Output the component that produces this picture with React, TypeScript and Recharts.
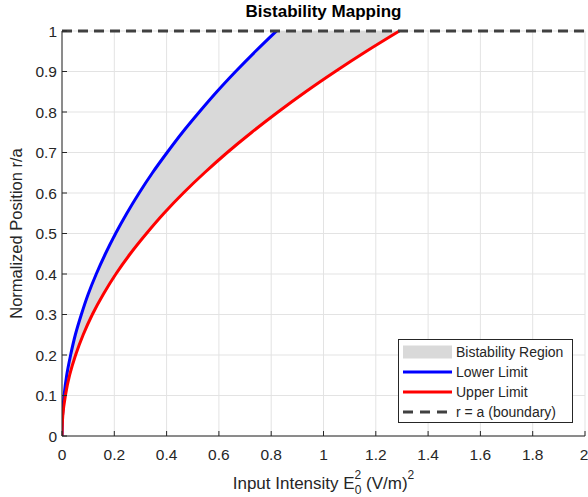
import { ComposedChart, Area, Line, XAxis, YAxis, CartesianGrid, ReferenceLine, Legend } from 'recharts';

// normalized position r/a (sampled along the curves)
const position = [0, 0.05, 0.1, 0.15, 0.2, 0.25, 0.3, 0.35, 0.4, 0.45, 0.5, 0.55, 0.6, 0.65, 0.7, 0.75, 0.8, 0.85, 0.9, 0.95, 1];
// input intensity where bistability starts (blue) and ends (red)
const lowerLimit = [0, 0.002, 0.008, 0.018, 0.033, 0.051, 0.074, 0.1, 0.131, 0.166, 0.205, 0.248, 0.295, 0.346, 0.402, 0.461, 0.525, 0.592, 0.664, 0.74, 0.82];
const upperLimit = [0, 0.003, 0.013, 0.029, 0.052, 0.081, 0.116, 0.158, 0.206, 0.261, 0.323, 0.39, 0.464, 0.545, 0.632, 0.726, 0.826, 0.932, 1.045, 1.164, 1.29];

const xTicks = [0, 0.2, 0.4, 0.6, 0.8, 1, 1.2, 1.4, 1.6, 1.8, 2];
const yTicks = [0, 0.1, 0.2, 0.3, 0.4, 0.5, 0.6, 0.7, 0.8, 0.9, 1];

const legendItems = ['Bistability Region', 'Lower Limit', 'Upper Limit', 'r = a (boundary)'];

const data = position.map((r, i) => ({
  r,
  lower: lowerLimit[i],
  upper: upperLimit[i],
  band: [lowerLimit[i], upperLimit[i]],
}));

const FONT = '"Liberation Sans", Arial, Helvetica, sans-serif';
const AXIS = '#262626';

function XLabel({ viewBox }: any) {
  const cx = viewBox.x + viewBox.width / 2;
  return (
    <text x={cx} y={489} textAnchor="middle" fill={AXIS} fontSize={17} fontFamily={FONT}>
      Input Intensity E
      <tspan fontSize={12} dy={5}>0</tspan>
      <tspan fontSize={12} dx={-6.7} dy={-15}>2</tspan>
      <tspan fontSize={17} dy={10}> (V/m)</tspan>
      <tspan fontSize={12} dy={-10}>2</tspan>
    </text>
  );
}

function YLabel({ viewBox }: any) {
  const cy = viewBox.y + viewBox.height / 2;
  return (
    <text x={22} y={cy} transform={`rotate(-90, 22, ${cy})`} textAnchor="middle" fill={AXIS} fontSize={16.5} fontFamily={FONT}>
      Normalized Position r/a
    </text>
  );
}

function LegendBox() {
  return (
    <svg width={175} height={84} style={{ display: 'block' }}>
      <rect x={0.5} y={0.5} width={174} height={83} fill="#fff" stroke={AXIS} strokeWidth={1} />
      <rect x={5} y={6.5} width={49} height={13} fill="#d9d9d9" />
      <line x1={5} x2={54} y1={33} y2={33} stroke="#0000ff" strokeWidth={3} />
      <line x1={5} x2={54} y1={53} y2={53} stroke="#ff0000" strokeWidth={3} />
      <line x1={5} x2={54} y1={73} y2={73} stroke="#404040" strokeWidth={3} strokeDasharray="10 7" />
      {legendItems.map((t, i) => (
        <text key={t} x={58} y={18 + i * 20} fontSize={14} fill={AXIS} fontFamily={FONT}>
          {t}
        </text>
      ))}
    </svg>
  );
}

export default function App() {
  return (
    <div style={{ position: 'absolute', left: 0, top: 0, width: 588, height: 497, background: '#fff', fontFamily: FONT }}>
      <div
        style={{
          position: 'absolute',
          left: 62,
          width: 523,
          top: 2,
          textAlign: 'center',
          fontSize: 17,
          fontWeight: 'bold',
          color: '#000',
          lineHeight: '20px',
        }}
      >
        Bistability Mapping
      </div>
      <ComposedChart
        width={588}
        height={497}
        data={data}
        layout="vertical"
        margin={{ top: 31, right: 3, left: 22, bottom: 31 }}
      >
        <CartesianGrid stroke="#e3e3e3" strokeWidth={1} />
        <XAxis
          type="number"
          domain={[0, 2]}
          ticks={xTicks}
          height={30}
          tickSize={-5}
          tickMargin={18}
          stroke={AXIS}
          tick={{ fill: AXIS, fontSize: 15.5, fontFamily: FONT }}
          label={<XLabel />}
          allowDataOverflow
        />
        <YAxis
          type="number"
          dataKey="r"
          domain={[0, 1]}
          ticks={yTicks}
          reversed
          width={40}
          tickSize={-5}
          tickMargin={10}
          stroke={AXIS}
          tick={{ fill: AXIS, fontSize: 15.5, fontFamily: FONT }}
          label={<YLabel />}
        />
        <Area
          type="monotone"
          dataKey="band"
          fill="#d9d9d9"
          fillOpacity={1}
          stroke="none"
          isAnimationActive={false}
          legendType="none"
        />
        <Line type="monotone" dataKey="lower" stroke="#0000ff" strokeWidth={3} dot={false} isAnimationActive={false} />
        <Line type="monotone" dataKey="upper" stroke="#ff0000" strokeWidth={3} dot={false} isAnimationActive={false} />
        <ReferenceLine y={1} stroke="#404040" strokeWidth={3} strokeDasharray="10 6" />
        <Legend
          layout="horizontal"
          verticalAlign="middle"
          align="center"
          content={() => <LegendBox />}
          wrapperStyle={{ position: 'absolute', left: 398, top: 339, width: 175, height: 84 }}
        />
      </ComposedChart>
    </div>
  );
}
